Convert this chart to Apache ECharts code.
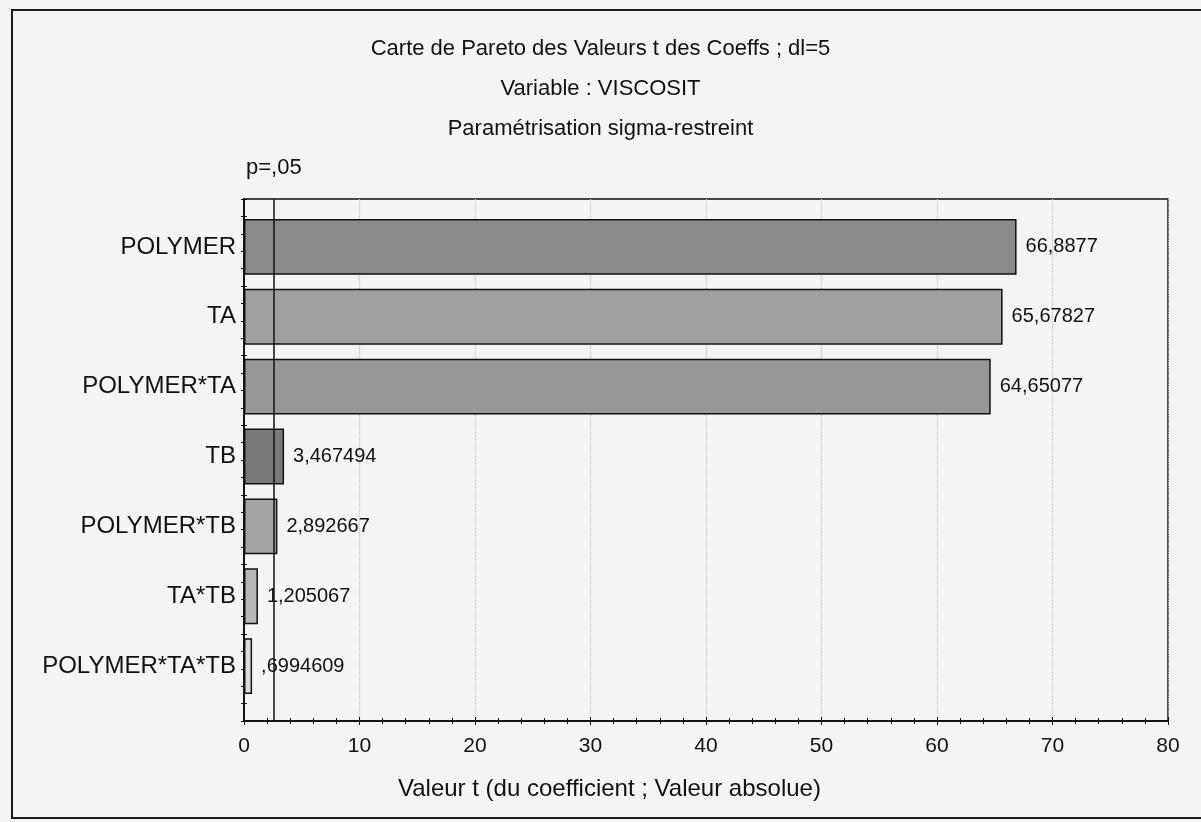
<!DOCTYPE html>
<html>
<head>
<meta charset="utf-8">
<script src="https://cdn.jsdelivr.net/npm/echarts@6/dist/echarts.min.js"></script>
<style>
html,body{margin:0;padding:0;background:#f4f4f2;}
#chart{width:1201px;height:822px;}
</style>
</head>
<body>
<div id="chart"></div>
<script>
// ---- data ----
const categories = ['POLYMER', 'TA', 'POLYMER*TA', 'TB', 'POLYMER*TB', 'TA*TB', 'POLYMER*TA*TB'];
const tValues = [66.8877, 65.67827, 64.65077, 3.467494, 2.892667, 1.205067, 0.6994609];
const pCritical = 2.570582;
const xTickValues = [0, 10, 20, 30, 40, 50, 60, 70, 80];
const titleLines = ['Carte de Pareto des Valeurs t des Coeffs ; dl=5', 'Variable : VISCOSIT', 'Paramétrisation sigma-restreint'];
const pLabel = 'p=,05';
const xAxisTitle = 'Valeur t (du coefficient ; Valeur absolue)';

// ---- styles ----
const barFills = ['#8a8a8a', '#a0a0a0', '#989898', '#7a7a7a', '#a4a4a4', '#b7b7b7', '#dcdcdc'];
const FONT = '"Liberation Sans", Arial, sans-serif';

function frFormat(v) {
  return String(v).replace('.', ',').replace(/^0,/, ',');
}

const chart = echarts.init(document.getElementById('chart'));
const textBase = { fontFamily: FONT, color: '#111', fontWeight: 'normal' };

const option = {
  backgroundColor: '#f4f4f2',
  animation: false,
  title: [
    { text: titleLines[0], left: 'center', top: 38, padding: 0, textStyle: Object.assign({ fontSize: 22 }, textBase) },
    { text: titleLines[1], left: 'center', top: 78, padding: 0, textStyle: Object.assign({ fontSize: 22 }, textBase) },
    { text: titleLines[2], left: 'center', top: 118, padding: 0, textStyle: Object.assign({ fontSize: 22 }, textBase) },
    { text: pLabel, left: 246, top: 157, padding: 0, textStyle: Object.assign({ fontSize: 22 }, textBase) },
    { text: xAxisTitle, left: 398, top: 777, padding: 0, textStyle: Object.assign({ fontSize: 24 }, textBase) }
  ],
  graphic: [
    { type: 'rect', shape: { x: 12, y: 10, width: 1200, height: 808 }, style: { fill: null, stroke: '#1a1a1a', lineWidth: 2 }, silent: true }
  ],
  grid: [
    { left: 244, right: 33, top: 199, bottom: 101, show: true, borderColor: '#111', borderWidth: 1.5, backgroundColor: 'transparent' },
    { left: 244, right: 33, top: 212, bottom: 121 }
  ],
  xAxis: [
    {
      gridIndex: 0, type: 'value', position: 'bottom', min: 0, max: 80, interval: 10,
      axisLine: { show: true, lineStyle: { color: '#111', width: 1.5 } },
      axisTick: { show: true, inside: true, length: 4, lineStyle: { color: '#111' } },
      minorTick: { show: true, splitNumber: 5, length: 3, lineStyle: { color: '#111' } },
      axisLabel: { show: true, margin: 15, fontSize: 21, fontFamily: FONT, color: '#111',
        customValues: xTickValues },
      splitLine: { show: true, lineStyle: { color: '#bdbdbd', type: 'dotted', width: 1.2 } }
    },
    {
      gridIndex: 0, type: 'value', position: 'top', min: 0, max: 80, interval: 10,
      axisLine: { show: true, lineStyle: { color: '#111', width: 1.5 } },
      axisTick: { show: true, inside: true, length: 4, lineStyle: { color: '#111' } },
      minorTick: { show: true, splitNumber: 5, length: 3, lineStyle: { color: '#111' } },
      axisLabel: { show: false },
      splitLine: { show: false }
    },
    { gridIndex: 1, type: 'value', min: 0, max: 80, show: false }
  ],
  yAxis: [
    {
      gridIndex: 0, type: 'value', position: 'left', min: 0, max: 30, interval: 1,
      axisLine: { show: true, lineStyle: { color: '#111', width: 1.5 } },
      axisTick: { show: true, inside: true, length: 3, lineStyle: { color: '#111' } },
      axisLabel: { show: false }, splitLine: { show: false }
    },
    {
      gridIndex: 0, type: 'value', position: 'right', min: 0, max: 30, interval: 1,
      axisLine: { show: true, lineStyle: { color: '#111', width: 1.5 } },
      axisTick: { show: true, inside: true, length: 3, lineStyle: { color: '#111' } },
      axisLabel: { show: false }, splitLine: { show: false }
    },
    {
      gridIndex: 1, type: 'category', data: categories, inverse: true,
      axisLine: { show: false }, axisTick: { show: false },
      axisLabel: { margin: 8, fontSize: 24, fontFamily: FONT, color: '#111' }
    }
  ],
  series: [
    {
      type: 'line', xAxisIndex: 0, yAxisIndex: 0, data: [], silent: true,
      markLine: {
        silent: true, symbol: 'none', label: { show: false },
        lineStyle: { color: '#111', type: 'solid', width: 1.5 },
        data: [{ xAxis: pCritical }]
      }
    },
    {
      type: 'bar', xAxisIndex: 2, yAxisIndex: 2,
      barCategoryGap: '20%',
      data: tValues.map((v, i) => ({ value: v, itemStyle: { color: barFills[i] } })),
      itemStyle: { borderColor: '#111', borderWidth: 1.5 },
      label: {
        show: true, position: 'right', distance: 9, fontSize: 20, fontFamily: FONT, color: '#111',
        formatter: p => frFormat(p.value)
      }
    }
  ]
};
chart.setOption(option);
</script>
</body>
</html>
